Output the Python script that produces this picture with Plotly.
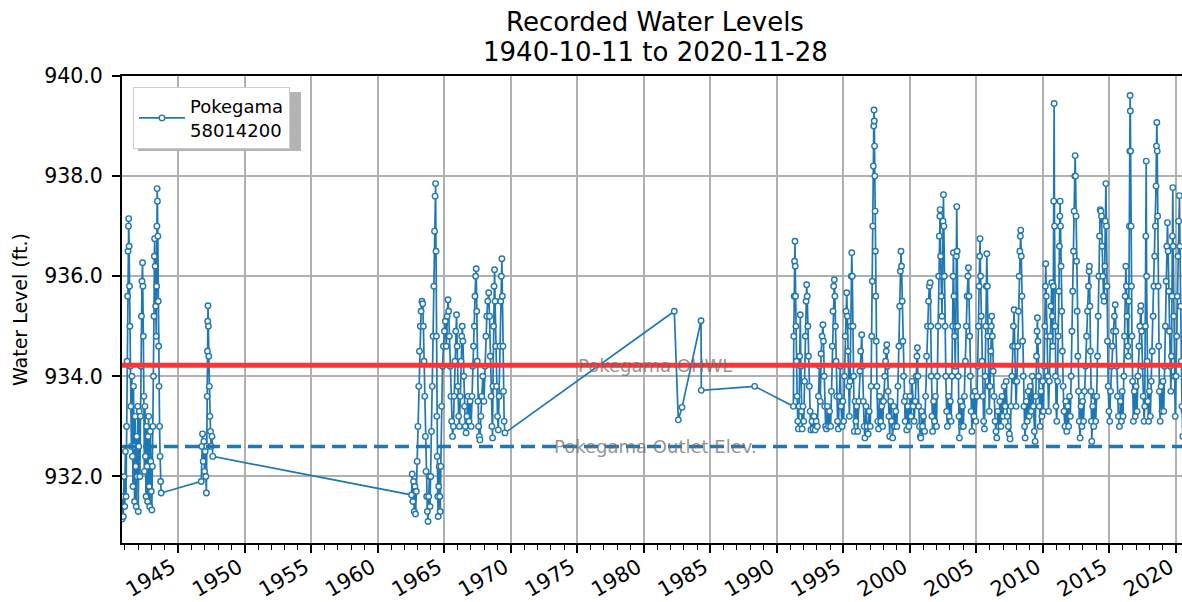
import pandas as pd
import plotly.graph_objects as go

# (decimal year, water level ft) readings, grouped by period
readings_1940s = [
    (1940.78, 931.15), (1940.83, 931.6), (1940.88, 931.2), (1940.93, 932.0), (1940.98, 931.4),
    (1941.03, 932.5), (1941.08, 931.6), (1941.12, 933.0), (1941.16, 934.3), (1941.20, 935.6),
    (1941.23, 936.5), (1941.26, 937.0), (1941.28, 937.15), (1941.31, 936.6), (1941.34, 935.8),
    (1941.37, 935.0), (1941.40, 934.2), (1941.44, 933.4), (1941.48, 932.6), (1941.52, 934.0),
    (1941.56, 932.4), (1941.60, 931.8), (1941.64, 933.8), (1941.68, 932.6), (1941.72, 931.5),
    (1941.76, 933.2), (1941.80, 932.2), (1941.84, 931.4), (1941.88, 932.8), (1941.92, 932.0),
    (1941.96, 933.4), (1942.00, 931.3), (1942.04, 932.6), (1942.08, 933.3), (1942.12, 932.0),
    (1942.16, 933.2), (1942.20, 934.2), (1942.24, 935.2), (1942.28, 935.9), (1942.32, 936.27),
    (1942.35, 935.8), (1942.38, 934.8), (1942.42, 933.6), (1942.46, 932.1), (1942.50, 933.4),
    (1942.54, 932.4), (1942.58, 931.6), (1942.62, 933.0), (1942.66, 932.2), (1942.70, 931.5),
    (1942.74, 932.8), (1942.78, 933.2), (1942.82, 931.8), (1942.86, 931.4), (1942.90, 932.9),
    (1942.94, 932.3), (1942.98, 931.7), (1943.02, 931.33), (1943.06, 932.2), (1943.10, 933.0),
    (1943.14, 934.0), (1943.18, 935.2), (1943.21, 936.4), (1943.23, 936.75), (1943.27, 936.2),
    (1943.31, 935.4), (1943.35, 934.8), (1943.38, 935.8), (1943.40, 937.0), (1943.42, 937.75),
    (1943.44, 937.5), (1943.47, 936.8), (1943.50, 935.5), (1943.53, 934.6), (1943.56, 933.8),
    (1943.60, 933.0), (1943.64, 932.4), (1943.68, 931.9), (1943.72, 931.67),
    (1946.73, 931.9), (1946.78, 932.6), (1946.83, 932.85), (1946.88, 932.3), (1946.93, 932.7),
    (1946.98, 932.1), (1947.03, 932.5), (1947.08, 932.0), (1947.12, 931.67), (1947.15, 932.6),
    (1947.18, 933.6), (1947.20, 934.5), (1947.22, 935.1), (1947.24, 935.41), (1947.27, 935.0),
    (1947.30, 934.4), (1947.34, 933.8), (1947.38, 933.2), (1947.43, 932.9), (1947.48, 932.6),
    (1947.54, 932.8), (1947.60, 932.4),
]

readings_1960s = [
    (1962.54, 931.63), (1962.59, 932.05), (1962.64, 931.5), (1962.69, 931.9), (1962.74, 931.3),
    (1962.79, 931.8), (1962.84, 931.25), (1962.90, 931.7), (1962.96, 932.3), (1963.02, 933.0),
    (1963.08, 933.8), (1963.14, 934.5), (1963.20, 935.0), (1963.26, 935.3), (1963.32, 935.5),
    (1963.38, 935.45), (1963.43, 935.0), (1963.48, 934.3), (1963.53, 933.6), (1963.58, 932.8),
    (1963.63, 932.1), (1963.68, 931.6), (1963.73, 931.3), (1963.78, 931.1), (1963.83, 931.6),
    (1963.88, 932.0), (1963.93, 931.4), (1963.98, 932.0), (1964.04, 932.9), (1964.10, 933.8),
    (1964.16, 934.8), (1964.22, 935.8), (1964.27, 936.9), (1964.31, 937.6), (1964.35, 937.85),
    (1964.38, 936.5), (1964.41, 934.8), (1964.44, 933.2), (1964.47, 932.4), (1964.51, 931.6),
    (1964.54, 931.2), (1964.58, 931.8), (1964.62, 932.2), (1964.66, 931.6), (1964.70, 931.3),
    (1964.74, 932.2), (1964.80, 933.4), (1964.87, 934.2), (1964.94, 934.6), (1965.01, 934.9),
    (1965.08, 935.1), (1965.15, 934.6), (1965.22, 935.2), (1965.28, 935.53), (1965.33, 935.3),
    (1965.38, 934.8), (1965.44, 934.2), (1965.50, 933.6), (1965.56, 933.1), (1965.62, 932.8),
    (1965.68, 933.0), (1965.74, 933.6), (1965.80, 934.3), (1965.86, 934.9), (1965.92, 935.23),
    (1965.97, 934.6), (1966.02, 933.8), (1966.08, 933.2), (1966.14, 933.0), (1966.20, 933.6),
    (1966.26, 934.3), (1966.31, 934.8), (1966.35, 935.0), (1966.40, 934.7), (1966.46, 934.0),
    (1966.52, 933.4), (1966.58, 933.0), (1966.64, 932.87), (1966.70, 933.2), (1966.78, 933.6),
    (1966.86, 933.1), (1966.94, 933.5), (1967.02, 933.0), (1967.08, 933.6), (1967.14, 934.2),
    (1967.20, 934.6), (1967.26, 935.0), (1967.31, 935.6), (1967.36, 936.0), (1967.40, 936.15),
    (1967.44, 935.3), (1967.48, 934.3), (1967.53, 933.5), (1967.58, 933.0), (1967.63, 932.8),
    (1967.68, 932.73), (1967.75, 933.2), (1967.82, 933.6), (1967.90, 934.0), (1967.98, 933.5),
    (1968.06, 934.2), (1968.13, 934.8), (1968.20, 935.2), (1968.27, 935.5), (1968.34, 935.67),
    (1968.40, 935.2), (1968.46, 934.4), (1968.52, 933.6), (1968.58, 933.0), (1968.63, 932.77),
    (1968.66, 933.8), (1968.70, 935.0), (1968.74, 935.8), (1968.78, 936.13), (1968.82, 935.5),
    (1968.87, 934.6), (1968.93, 933.8), (1969.00, 933.2), (1969.06, 932.93), (1969.12, 933.6),
    (1969.18, 934.6), (1969.24, 935.5), (1969.29, 936.0), (1969.33, 936.35), (1969.37, 935.6),
    (1969.41, 934.6), (1969.45, 933.7), (1969.50, 933.1), (1969.56, 932.87),
]

readings_1980s = [
    (1982.29, 935.3), (1982.59, 933.13), (1982.87, 933.38), (1984.30, 935.11), (1984.32, 933.72),
    (1988.33, 933.8), (1991.24, 933.4),
]

readings_1990s = [
    (1991.27, 934.8), (1991.30, 935.6), (1991.33, 936.3), (1991.36, 936.7), (1991.38, 936.2),
    (1991.40, 935.6), (1991.43, 935.0), (1991.47, 934.3), (1991.52, 933.6), (1991.57, 933.1),
    (1991.62, 932.95), (1991.67, 933.4), (1991.72, 934.4), (1991.76, 935.23), (1991.80, 934.2),
    (1991.85, 933.3), (1991.90, 932.95), (1991.96, 933.4),
    (1992.02, 933.1), (1992.08, 933.9), (1992.14, 934.8), (1992.20, 935.5), (1992.24, 935.83),
    (1992.28, 935.6), (1992.33, 935.0), (1992.38, 934.4), (1992.44, 933.8), (1992.50, 933.3),
    (1992.56, 932.93), (1992.64, 933.1), (1992.72, 932.95), (1992.80, 933.2), (1992.88, 932.93),
    (1992.96, 933.1),
    (1993.04, 933.0), (1993.12, 933.6), (1993.20, 934.2), (1993.26, 933.5), (1993.32, 934.45),
    (1993.40, 934.8), (1993.46, 935.03), (1993.50, 934.7), (1993.55, 934.0), (1993.60, 933.4),
    (1993.66, 933.0), (1993.72, 932.95), (1993.80, 933.4), (1993.88, 933.0), (1993.96, 933.3),
    (1994.04, 933.0), (1994.10, 933.7), (1994.16, 934.6), (1994.22, 935.3), (1994.27, 935.8),
    (1994.32, 935.93), (1994.36, 935.6), (1994.40, 935.0), (1994.45, 934.3), (1994.50, 933.6),
    (1994.56, 933.1), (1994.62, 932.95), (1994.70, 933.6), (1994.76, 934.2), (1994.82, 933.4),
    (1994.90, 933.0), (1994.96, 933.5),
    (1995.02, 933.1), (1995.08, 934.0), (1995.14, 934.8), (1995.20, 935.3), (1995.25, 935.67),
    (1995.30, 935.2), (1995.35, 934.5), (1995.40, 933.8), (1995.45, 933.2), (1995.50, 933.9),
    (1995.55, 935.0), (1995.60, 936.0), (1995.63, 936.47), (1995.67, 936.0), (1995.72, 935.0),
    (1995.77, 934.0), (1995.82, 932.9), (1995.88, 933.5), (1995.94, 933.1),
    (1996.00, 933.4), (1996.08, 932.9), (1996.16, 933.5), (1996.24, 934.1), (1996.30, 934.5),
    (1996.38, 934.83), (1996.44, 934.2), (1996.50, 933.5), (1996.56, 933.0), (1996.62, 932.77),
    (1996.70, 933.4), (1996.78, 933.0), (1996.86, 932.85), (1996.94, 933.3),
    (1997.02, 933.0), (1997.08, 933.8), (1997.13, 934.8), (1997.17, 935.9), (1997.21, 937.0),
    (1997.25, 938.2), (1997.28, 939.0), (1997.30, 939.32), (1997.32, 939.1), (1997.34, 938.6),
    (1997.36, 938.0), (1997.38, 937.3), (1997.40, 936.5), (1997.43, 935.6), (1997.47, 934.7),
    (1997.52, 933.8), (1997.58, 933.1), (1997.64, 932.95), (1997.72, 933.6), (1997.80, 933.1),
    (1997.88, 933.4), (1997.95, 933.0),
    (1998.02, 933.5), (1998.10, 934.0), (1998.17, 934.3), (1998.22, 934.5), (1998.26, 934.63),
    (1998.31, 934.2), (1998.36, 933.7), (1998.42, 933.2), (1998.48, 932.8), (1998.55, 933.5),
    (1998.62, 933.1), (1998.70, 932.77), (1998.78, 933.4), (1998.86, 933.0), (1998.94, 933.3),
    (1999.02, 933.0), (1999.10, 933.8), (1999.17, 934.6), (1999.23, 935.4), (1999.28, 936.1),
    (1999.33, 936.5), (1999.37, 936.2), (1999.42, 935.5), (1999.47, 934.7), (1999.52, 934.0),
    (1999.58, 933.5), (1999.64, 933.1), (1999.70, 933.6), (1999.76, 932.93), (1999.84, 933.4),
    (1999.92, 933.0),
]

readings_2000s = [
    (2000.00, 933.6), (2000.08, 933.2), (2000.16, 933.9), (2000.24, 933.4), (2000.32, 933.1),
    (2000.40, 933.5), (2000.48, 934.0), (2000.53, 934.4), (2000.56, 934.57), (2000.60, 934.0),
    (2000.66, 933.4), (2000.72, 933.0), (2000.78, 932.8), (2000.82, 932.77), (2000.88, 933.3),
    (2000.95, 933.0),
    (2001.02, 933.2), (2001.10, 932.9), (2001.18, 933.6), (2001.25, 934.4), (2001.32, 935.0),
    (2001.40, 935.5), (2001.46, 935.8), (2001.52, 935.87), (2001.56, 935.0), (2001.60, 934.0),
    (2001.65, 933.2), (2001.70, 932.9), (2001.78, 933.5), (2001.85, 933.1), (2001.92, 933.6),
    (2002.00, 933.0), (2002.06, 934.0), (2002.11, 935.0), (2002.16, 936.0), (2002.21, 936.8),
    (2002.25, 937.2), (2002.27, 937.33), (2002.31, 936.4), (2002.36, 935.6), (2002.41, 935.2),
    (2002.45, 936.0), (2002.49, 937.1), (2002.52, 937.63), (2002.55, 937.0), (2002.59, 936.0),
    (2002.64, 935.0), (2002.70, 934.0), (2002.76, 933.3), (2002.82, 933.0), (2002.90, 933.6),
    (2002.96, 933.2),
    (2003.04, 933.5), (2003.10, 933.1), (2003.16, 934.0), (2003.21, 935.0), (2003.25, 936.0),
    (2003.27, 936.47), (2003.31, 935.6), (2003.36, 934.8), (2003.41, 934.2), (2003.45, 935.0),
    (2003.49, 936.4), (2003.52, 937.39), (2003.55, 936.5), (2003.59, 935.0), (2003.63, 934.0),
    (2003.68, 933.2), (2003.72, 932.77), (2003.80, 933.5), (2003.88, 933.0), (2003.95, 933.4),
    (2004.02, 933.0), (2004.10, 933.6), (2004.17, 934.3), (2004.24, 935.0), (2004.30, 935.6),
    (2004.36, 936.0), (2004.40, 936.17), (2004.44, 935.6), (2004.49, 934.8), (2004.54, 934.0),
    (2004.60, 933.3), (2004.66, 932.9), (2004.74, 933.6), (2004.82, 933.2), (2004.90, 933.7),
    (2004.96, 933.1),
    (2005.04, 933.6), (2005.10, 934.2), (2005.15, 935.0), (2005.20, 935.8), (2005.24, 936.4),
    (2005.27, 936.75), (2005.31, 936.0), (2005.36, 935.2), (2005.42, 934.3), (2005.48, 933.6),
    (2005.54, 933.1), (2005.60, 932.95), (2005.65, 934.0), (2005.70, 935.0), (2005.74, 935.8),
    (2005.78, 936.45), (2005.82, 935.8), (2005.86, 934.8), (2005.91, 933.8), (2005.96, 933.3),
    (2006.02, 933.8), (2006.08, 934.5), (2006.12, 935.0), (2006.15, 935.2), (2006.20, 934.8),
    (2006.26, 934.1), (2006.32, 933.6), (2006.40, 933.1), (2006.47, 932.9), (2006.53, 932.77),
    (2006.60, 933.3), (2006.68, 933.0), (2006.76, 933.5), (2006.84, 933.0), (2006.92, 933.6),
    (2007.00, 933.2), (2007.08, 933.8), (2007.16, 933.4), (2007.24, 933.9), (2007.32, 933.2),
    (2007.40, 933.0), (2007.47, 932.85), (2007.53, 932.75), (2007.60, 933.4), (2007.66, 934.0),
    (2007.72, 934.6), (2007.78, 935.0), (2007.83, 935.33), (2007.88, 934.6), (2007.93, 933.9),
    (2007.98, 933.4),
    (2008.04, 933.9), (2008.10, 934.6), (2008.16, 935.3), (2008.21, 936.0), (2008.26, 936.5),
    (2008.30, 936.8), (2008.33, 936.92), (2008.37, 936.4), (2008.42, 935.6), (2008.47, 934.7),
    (2008.52, 934.0), (2008.57, 933.4), (2008.62, 933.0), (2008.66, 932.77), (2008.74, 933.5),
    (2008.82, 933.1), (2008.90, 933.7), (2008.97, 933.2),
    (2009.04, 933.8), (2009.12, 933.3), (2009.20, 934.0), (2009.28, 933.4), (2009.35, 932.9),
    (2009.41, 932.7), (2009.46, 933.6), (2009.51, 934.4), (2009.55, 934.9), (2009.58, 935.17),
    (2009.62, 934.7), (2009.67, 934.0), (2009.72, 933.4), (2009.78, 933.0), (2009.85, 933.7),
    (2009.92, 933.2), (2009.98, 933.9),
]

readings_2010s = [
    (2010.04, 933.3), (2010.09, 934.2), (2010.14, 935.0), (2010.18, 935.8), (2010.21, 936.25),
    (2010.25, 935.6), (2010.30, 934.8), (2010.36, 934.0), (2010.42, 933.3), (2010.48, 933.9),
    (2010.54, 934.8), (2010.60, 935.4), (2010.66, 935.87), (2010.70, 935.2), (2010.74, 934.6),
    (2010.78, 935.8), (2010.81, 937.5), (2010.84, 939.45), (2010.87, 937.0), (2010.90, 935.0),
    (2010.94, 934.0), (2010.98, 933.4),
    (2011.04, 933.1), (2011.10, 933.9), (2011.15, 934.8), (2011.20, 935.7), (2011.24, 936.6),
    (2011.27, 937.2), (2011.29, 937.5), (2011.32, 937.0), (2011.36, 936.2), (2011.41, 935.3),
    (2011.46, 934.5), (2011.52, 933.8), (2011.58, 933.3), (2011.65, 933.0), (2011.72, 933.5),
    (2011.79, 932.9), (2011.86, 933.4), (2011.93, 933.0),
    (2012.00, 933.6), (2012.06, 933.2), (2012.12, 934.0), (2012.18, 934.9), (2012.24, 935.7),
    (2012.30, 936.5), (2012.35, 937.3), (2012.39, 938.0), (2012.42, 938.41), (2012.45, 938.0),
    (2012.49, 937.2), (2012.53, 936.3), (2012.57, 935.3), (2012.62, 934.4), (2012.67, 933.7),
    (2012.73, 933.1), (2012.79, 932.77), (2012.86, 933.4), (2012.93, 933.0), (2012.98, 933.5),
    (2013.05, 933.1), (2013.12, 933.7), (2013.20, 934.2), (2013.28, 934.8), (2013.35, 935.3),
    (2013.42, 935.8), (2013.47, 936.1), (2013.49, 936.2), (2013.53, 935.4), (2013.57, 934.5),
    (2013.61, 933.7), (2013.64, 933.1), (2013.67, 932.7), (2013.74, 933.4), (2013.82, 933.0),
    (2013.90, 933.6), (2013.96, 933.1),
    (2014.04, 933.6), (2014.10, 934.4), (2014.15, 935.2), (2014.20, 936.0), (2014.25, 936.8),
    (2014.30, 937.33), (2014.35, 937.3), (2014.40, 937.2), (2014.45, 936.6), (2014.50, 936.0),
    (2014.55, 935.6), (2014.60, 935.5), (2014.65, 936.2), (2014.69, 937.1), (2014.73, 937.85),
    (2014.77, 937.0), (2014.81, 935.8), (2014.85, 934.7), (2014.90, 933.8), (2014.96, 933.3),
    (2015.02, 933.1), (2015.08, 933.7), (2015.15, 934.2), (2015.22, 934.6), (2015.30, 934.9),
    (2015.37, 935.2), (2015.43, 935.43), (2015.48, 934.9), (2015.54, 934.2), (2015.60, 933.6),
    (2015.67, 933.2), (2015.75, 933.0), (2015.82, 933.5), (2015.90, 933.1), (2015.96, 933.7),
    (2016.02, 933.2), (2016.08, 934.0), (2016.13, 934.8), (2016.18, 935.6), (2016.23, 936.2),
    (2016.27, 935.8), (2016.32, 935.2), (2016.37, 934.6), (2016.42, 934.4), (2016.46, 935.5),
    (2016.50, 937.0), (2016.53, 938.5), (2016.55, 939.61), (2016.57, 939.3), (2016.59, 938.5),
    (2016.62, 937.0), (2016.65, 935.8), (2016.69, 934.8), (2016.74, 933.9), (2016.80, 933.1),
    (2016.87, 933.7), (2016.94, 933.2),
    (2017.00, 933.8), (2017.07, 933.3), (2017.14, 934.0), (2017.21, 934.6), (2017.28, 935.0),
    (2017.33, 935.3), (2017.36, 935.41), (2017.41, 934.9), (2017.47, 934.2), (2017.53, 933.6),
    (2017.60, 933.1), (2017.65, 933.4), (2017.70, 935.0), (2017.73, 936.8), (2017.76, 938.3),
    (2017.79, 936.0), (2017.83, 934.3), (2017.88, 933.5), (2017.94, 933.1),
    (2018.00, 933.7), (2018.07, 933.2), (2018.14, 933.9), (2018.21, 934.5), (2018.28, 935.2),
    (2018.34, 935.8), (2018.40, 936.4), (2018.45, 937.0), (2018.50, 937.8), (2018.53, 938.6),
    (2018.56, 939.07), (2018.59, 938.5), (2018.62, 937.2), (2018.66, 935.8), (2018.70, 934.6),
    (2018.75, 933.7), (2018.81, 933.1), (2018.88, 933.8), (2018.95, 933.3),
    (2019.02, 933.9), (2019.08, 933.3), (2019.14, 934.2), (2019.20, 935.0), (2019.26, 935.9),
    (2019.31, 936.6), (2019.36, 937.07), (2019.41, 936.5), (2019.46, 935.7), (2019.51, 934.9),
    (2019.56, 934.2), (2019.61, 933.7), (2019.66, 934.4), (2019.70, 935.6), (2019.73, 936.8),
    (2019.76, 937.77), (2019.79, 936.6), (2019.83, 935.2), (2019.88, 934.0), (2019.94, 933.2),
    (2020.00, 934.0), (2020.05, 934.8), (2020.10, 935.6), (2020.15, 936.4), (2020.20, 937.1),
    (2020.26, 937.61), (2020.30, 936.6), (2020.35, 935.4), (2020.40, 934.3), (2020.45, 933.4),
    (2020.52, 932.8), (2020.60, 933.3), (2020.68, 933.0), (2020.76, 933.5), (2020.84, 933.1),
    (2020.91, 933.2),
]

series_name = "Pokegama<br>58014200"
ohwl_level = 934.22
outlet_level = 932.60
ohwl_label = "Pokegama OHWL"
outlet_label = "Pokegama Outlet Elev."
title_line1 = "Recorded Water Levels"
title_line2 = "1940-10-11 to 2020-11-28"
y_title = "Water Level (ft.)"
y_ticks = [932.0, 934.0, 936.0, 938.0, 940.0]


def to_date(y):
    yi = int(y)
    start = pd.Timestamp(year=yi, month=1, day=1)
    return start + pd.Timedelta(days=(y - yi) * 365.25)


all_readings = (readings_1940s + readings_1960s + readings_1980s
                + readings_1990s + readings_2000s + readings_2010s)
dates = [to_date(t) for t, _ in all_readings]
level = [v for _, v in all_readings]

BLUE = "#1f77b4"
FONT = "DejaVu Sans"

W, H = 1182, 602
L, R, T, B = 122, 0, 76, 59
pw, ph = W - L - R, H - T - B


def px(xp):
    return (xp - L) / pw


def py(yp):
    return 1 - (yp - T) / ph


fig = go.Figure()
fig.add_trace(go.Scatter(
    x=dates, y=level, mode="lines+markers", name=series_name,
    line=dict(color=BLUE, width=1.7),
    marker=dict(symbol="circle", size=5.5, color="white",
                line=dict(color=BLUE, width=1.4)),
    showlegend=True,
))

x0 = "1940-10-11"
x1 = "2020-06-14"

# reference lines
fig.add_shape(type="line", xref="paper", x0=0, x1=1, yref="y",
              y0=ohwl_level, y1=ohwl_level,
              line=dict(color="#ff3333", width=5), layer="above")
fig.add_shape(type="line", xref="paper", x0=0, x1=1, yref="y",
              y0=outlet_level, y1=outlet_level,
              line=dict(color=BLUE, width=3.5, dash="14px,7px"), layer="above")

# reference line labels (centred on the full axes width incl. the cropped part)
for lvl, txt in [(ohwl_level, ohwl_label), (outlet_level, outlet_label)]:
    fig.add_annotation(x=px(655), xref="paper", y=lvl, yref="y", text=txt,
                       showarrow=False, xanchor="center", yanchor="middle",
                       font=dict(family=FONT, size=18, color="rgba(110,110,110,0.75)"))

# title as two centred lines
for yc, txt in [(22, title_line1), (52, title_line2)]:
    fig.add_annotation(x=px(655), xref="paper", y=py(yc), yref="paper", text=txt,
                       showarrow=False, xanchor="center", yanchor="middle",
                       font=dict(family=FONT, size=26, color="black"))

# legend shadow
fig.add_shape(type="rect", xref="paper", yref="paper",
              x0=px(138), x1=px(301), y0=py(151), y1=py(92),
              fillcolor="#b4b4b4", line=dict(width=0), layer="above")

fig.update_layout(
    width=W, height=H,
    margin=dict(l=L, r=R, t=T, b=B, autoexpand=False),
    paper_bgcolor="white", plot_bgcolor="white",
    font=dict(family=FONT, color="black"),
    legend=dict(x=px(133), y=py(87), xanchor="left", yanchor="top",
                bgcolor="white", bordercolor="#cccccc", borderwidth=1,
                font=dict(family=FONT, size=18), itemwidth=46,
                tracegroupgap=0),
    showlegend=True,
)

fig.update_xaxes(
    type="date", range=[x0, x1], automargin=False,
    tick0="1945-01-01", dtick="M60", tickformat="%Y",
    ticks="outside", ticklen=8, tickwidth=1.5, tickcolor="black",
    tickangle=-30, tickfont=dict(family=FONT, size=21),
    ticklabeloverflow="allow", ticklabelshift=-6, ticklabelstandoff=-6,
    showgrid=True, gridcolor="#b0b0b0", gridwidth=1.5,
    showline=True, linecolor="black", linewidth=2, mirror=True,
    minor=dict(dtick="M12", tick0="1941-01-01", ticks="outside", ticklen=5,
               tickwidth=1, tickcolor="black", showgrid=False),
    zeroline=False,
)
fig.update_yaxes(
    range=[930.67, 940.0], tickvals=y_ticks, tickformat=".1f", automargin=False,
    ticks="outside", ticklen=8, tickwidth=1.5, tickcolor="black",
    tickfont=dict(family=FONT, size=20.5), ticklabelstandoff=5,
    showgrid=True, gridcolor="#b0b0b0", gridwidth=1.5,
    showline=True, linecolor="black", linewidth=2, mirror=False,
    zeroline=False,
    title=dict(text=y_title, font=dict(family=FONT, size=19), standoff=12),
)

fig.write_html("out.html", config={"displayModeBar": False},
               post_script="document.body.style.margin='0';document.body.style.overflow='hidden';")
